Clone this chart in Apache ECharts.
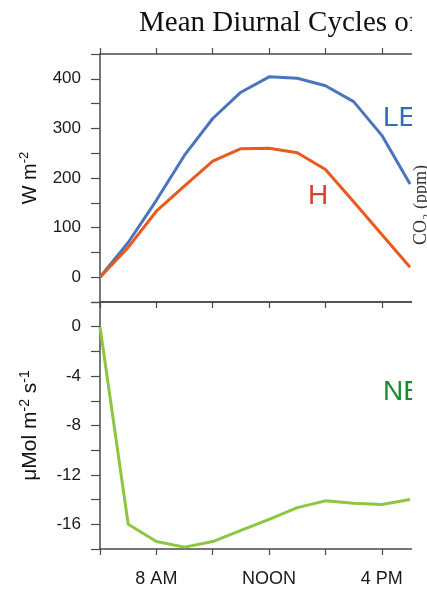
<!DOCTYPE html>
<html>
<head>
<meta charset="utf-8">
<script src="https://cdn.jsdelivr.net/npm/echarts@6/dist/echarts.min.js"></script>
<style>html,body{margin:0;padding:0;background:#fff;}#c{width:427px;height:592px;}</style>
</head>
<body>
<div id="c"></div>
<script>
var hours = [6, 7, 8, 9, 10, 11, 12, 13, 14, 15, 16, 17];
var LE = [0, 70, 155, 246, 320, 373, 404, 401, 386, 354, 286, 188];
var H = [0, 60, 133, 184, 234, 259, 260, 251, 217, 152, 86, 20];
var NEE = [0, -16.0, -17.4, -17.85, -17.4, -16.5, -15.6, -14.65, -14.1, -14.3, -14.4, -14.0];
var xTicks = [6, 8, 10, 12, 14, 16];
var xTickLabels = {8: '8 AM', 12: 'NOON', 16: '4 PM'};
var topLabels = [0, 100, 200, 300, 400];
var bottomLabels = [0, -4, -8, -12, -16];

function pairs(vals) { return hours.map(function (h, i) { return [h, vals[i]]; }); }

var axisCol = '#4a4a4a';
var fontFam = '"Liberation Sans", Arial, sans-serif';

function xAx(gridIndex, position, showTicks, showLabels) {
  return {
    type: 'value', gridIndex: gridIndex, position: position,
    min: 6, max: 17.07,
    axisLine: {show: true, onZero: false, lineStyle: {color: axisCol, width: 1.5}},
    axisTick: {show: showTicks, customValues: xTicks, length: 6, lineStyle: {color: axisCol, width: 1.2}},
    splitLine: {show: false},
    axisLabel: {
      show: showLabels, customValues: [8, 12, 16], margin: 21, color: '#1a1a1a', fontSize: 18, fontFamily: fontFam,
      formatter: function (v) { return xTickLabels[v] || ''; }
    }
  };
}

var chart = echarts.init(document.getElementById('c'), null, {renderer: 'canvas'});
chart.setOption({
  animation: false,
  backgroundColor: '#fff',
  title: {
    text: 'Mean Diurnal Cycles of',
    left: 139, top: 9, padding: 0,
    textStyle: {fontFamily: '"Liberation Serif", "Times New Roman", serif', fontWeight: 'normal', fontSize: 29, color: '#111'}
  },
  grid: [
    {left: 100, top: 54, width: 312, height: 248},
    {left: 100, top: 302, width: 312, height: 247}
  ],
  xAxis: [
    xAx(0, 'bottom', true, false),
    xAx(0, 'top', true, false),
    xAx(1, 'bottom', true, true),
    xAx(1, 'top', false, false)
  ],
  yAxis: [
    {
      type: 'value', gridIndex: 0, min: -50, max: 450, interval: 50,
      name: '{n|W m}{s|-2}', nameLocation: 'middle', nameGap: 58,
      nameTextStyle: {rich: {n: {fontSize: 20, fontFamily: fontFam, color: '#111', lineHeight: 24}, s: {fontSize: 13, fontFamily: fontFam, color: '#111', verticalAlign: 'top', lineHeight: 24}}},
      axisLine: {show: true, lineStyle: {color: axisCol, width: 1.5}},
      axisTick: {show: true, length: 9, lineStyle: {color: axisCol, width: 1.2}},
      splitLine: {show: false},
      axisLabel: {margin: 19, color: '#1a1a1a', fontSize: 17, fontFamily: fontFam,
        formatter: function (v) { return topLabels.indexOf(v) >= 0 ? String(v) : ''; }}
    },
    {
      type: 'value', gridIndex: 1, min: -18, max: 2, interval: 2,
      name: '{n|\u03bcMol m}{s|-2}{n| s}{s|-1}', nameLocation: 'middle', nameGap: 58,
      nameTextStyle: {rich: {n: {fontSize: 21, fontFamily: fontFam, color: '#111', lineHeight: 24}, s: {fontSize: 14, fontFamily: fontFam, color: '#111', verticalAlign: 'top', lineHeight: 24}}},
      axisLine: {show: true, lineStyle: {color: axisCol, width: 1.5}},
      axisTick: {show: true, length: 9, lineStyle: {color: axisCol, width: 1.2}},
      splitLine: {show: false},
      axisLabel: {margin: 19, color: '#1a1a1a', fontSize: 17, fontFamily: fontFam,
        formatter: function (v) { return bottomLabels.indexOf(v) >= 0 ? String(v) : ''; }}
    }
  ],
  series: [
    {type: 'line', name: 'LE', xAxisIndex: 0, yAxisIndex: 0, data: pairs(LE), showSymbol: false,
      lineStyle: {color: '#4a75bc', width: 3}, z: 3},
    {type: 'line', name: 'H', xAxisIndex: 0, yAxisIndex: 0, data: pairs(H), showSymbol: false,
      lineStyle: {color: '#e95a1f', width: 3}, z: 3},
    {type: 'line', name: 'NEE', xAxisIndex: 2, yAxisIndex: 1, data: pairs(NEE), showSymbol: false,
      lineStyle: {color: '#8dc63f', width: 3}, z: 3}
  ],
  graphic: [
    {type: 'text', left: 383, top: 104, z: 10, style: {text: 'LE', fill: '#2f6db8', font: '28px "Liberation Sans", Arial, sans-serif'}},
    {type: 'text', left: 308, top: 182, z: 10, style: {text: 'H', fill: '#d9432a', font: '28px "Liberation Sans", Arial, sans-serif'}},
    {type: 'text', left: 383, top: 378, z: 10, style: {text: 'NEE', fill: '#1d8a30', font: '28px "Liberation Sans", Arial, sans-serif'}},
    {type: 'rect', shape: {x: 412, y: 0, width: 20, height: 592}, style: {fill: '#fff'}, z: 20},
    {type: 'text', x: 421, y: 205, rotation: Math.PI / 2, z: 21,
      style: {text: 'CO\u2082 (ppm)', fill: '#333', font: '18px "Liberation Serif", "Times New Roman", serif', textAlign: 'center', textVerticalAlign: 'middle'}}
  ]
});
</script>
</body>
</html>
